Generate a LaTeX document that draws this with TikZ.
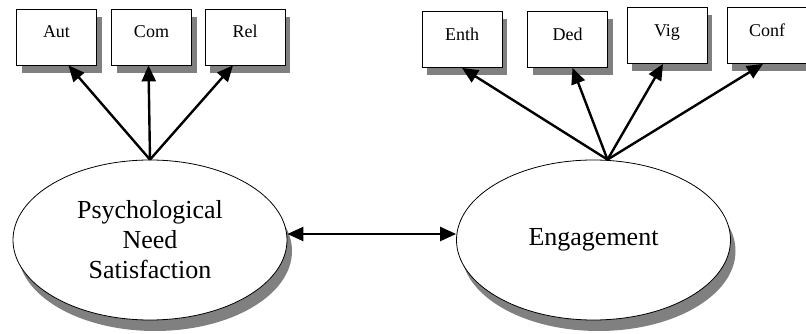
\documentclass[tikz,border=0pt]{standalone}
\usepackage{fontspec}
\setmainfont{Liberation Serif}
\usetikzlibrary{shapes.geometric,shadows,arrows.meta}

\begin{document}
\begin{tikzpicture}[x=1pt,y=-1pt,
	indbox/.style={draw,line width=0.8pt,fill=white,minimum width=80pt,minimum height=56pt,inner sep=0pt,
		text height=12pt,text depth=10pt,font=\fontsize{18}{20}\selectfont,
		drop shadow={shadow xshift=5pt,shadow yshift=-8pt,fill=black!50,opacity=1}},
	latent/.style={ellipse,draw,line width=0.8pt,fill=white,minimum width=274pt,minimum height=160pt,inner sep=0pt,
		align=center,font=\fontsize{26}{30}\selectfont,
		drop shadow={shadow xshift=5pt,shadow yshift=-11pt,fill=black!50,opacity=1}},
	load/.style={line width=2.4pt,-{Triangle[length=16pt,width=14pt]}}]

	\useasboundingbox (0,0) rectangle (806,334);

	\node[indbox] (aut) at (56.5,37) {Aut};
	\node[indbox] (com) at (151.5,37) {Com};
	\node[indbox] (rel) at (245,37) {Rel};

	\node[indbox] (enth) at (462,39.5) {Enth};
	\node[indbox] (ded) at (567.5,39.5) {Ded};
	\node[indbox] (vig) at (667,35.5) {Vig};
	\node[indbox] (conf) at (767,35.5) {Conf};

	\node[latent] (psn) at (150,240) {Psychological\\Need\\Satisfaction};
	\node[latent] (eng) at (593.5,240) {Engagement};

	\draw[load] (psn.north) -- ([xshift=12pt]aut.south);
	\draw[load] (psn.north) -- ([xshift=-3pt]com.south);
	\draw[load] (psn.north) -- ([xshift=-12pt]rel.south);

	\coordinate (engtop) at ([xshift=14pt]eng.north);
	\draw[load] (engtop) -- (enth.south);
	\draw[load] (engtop) -- ([xshift=5pt]ded.south);
	\draw[load] (engtop) -- ([xshift=-4pt]vig.south);
	\draw[load] (engtop) -- ([xshift=-4pt]conf.south);

	\draw[load,{Triangle[length=16pt,width=14pt]}-{Triangle[length=16pt,width=14pt]}] ([yshift=6pt]psn.east) -- ([yshift=6pt]eng.west);
\end{tikzpicture}
\end{document}
